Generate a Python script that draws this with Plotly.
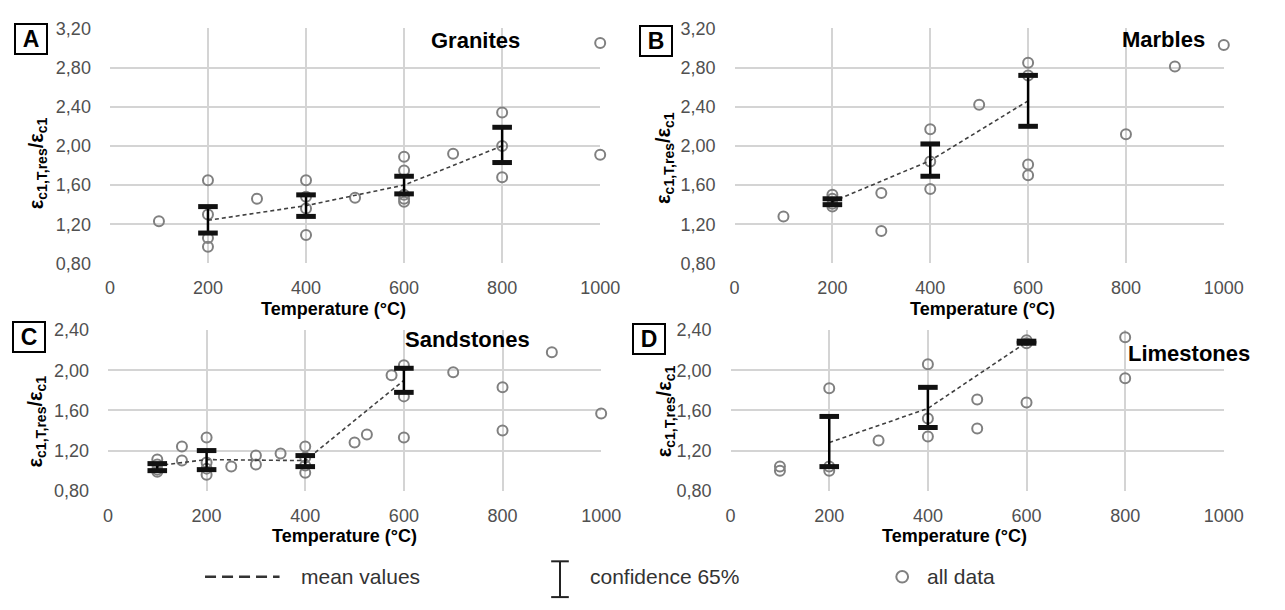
import plotly.graph_objects as go

# ---------------- data ----------------
# Panel A - Granites
a_x = [100, 200, 200, 200, 200, 300, 400, 400, 400, 400, 500, 600, 600, 600, 600, 600, 700, 800, 800, 800, 1000, 1000]
a_y = [1.23, 1.65, 1.30, 1.06, 0.97, 1.46, 1.65, 1.48, 1.36, 1.09, 1.47, 1.89, 1.75, 1.50, 1.46, 1.43, 1.92, 2.34, 2.00, 1.68, 3.05, 1.91]
a_mean_x = [200, 400, 600, 800]
a_mean_y = [1.24, 1.39, 1.60, 2.00]
a_ci_x = [200, 400, 600, 800]
a_ci_low = [1.11, 1.28, 1.51, 1.83]
a_ci_high = [1.38, 1.50, 1.69, 2.19]

# Panel B - Marbles
b_x = [100, 200, 200, 200, 200, 300, 300, 400, 400, 400, 500, 600, 600, 600, 600, 800, 900, 1000]
b_y = [1.28, 1.50, 1.46, 1.41, 1.38, 1.52, 1.13, 2.17, 1.84, 1.56, 2.42, 2.85, 2.72, 1.81, 1.70, 2.12, 2.81, 3.03]
b_mean_x = [200, 400, 600]
b_mean_y = [1.43, 1.85, 2.46]
b_ci_x = [200, 400, 600]
b_ci_low = [1.40, 1.69, 2.20]
b_ci_high = [1.46, 2.02, 2.72]

# Panel C - Sandstones
c_x = [100, 100, 100, 100, 150, 150, 200, 200, 200, 200, 250, 300, 300, 350, 400, 400, 400, 400,
       500, 525, 575, 600, 600, 600, 700, 800, 800, 900, 1000]
c_y = [1.11, 1.06, 1.01, 0.99, 1.24, 1.10, 1.33, 1.08, 1.02, 0.96, 1.04, 1.15, 1.06, 1.17, 1.24, 1.13, 1.05, 0.98,
       1.28, 1.36, 1.95, 2.05, 1.74, 1.33, 1.98, 1.83, 1.40, 2.18, 1.57]
c_mean_x = [100, 200, 400, 600]
c_mean_y = [1.05, 1.11, 1.10, 1.90]
c_ci_x = [100, 200, 400, 600]
c_ci_low = [1.00, 1.01, 1.04, 1.78]
c_ci_high = [1.07, 1.20, 1.15, 2.02]

# Panel D - Limestones
d_x = [100, 100, 200, 200, 200, 300, 400, 400, 400, 500, 500, 600, 600, 600, 800, 800]
d_y = [1.04, 1.00, 1.82, 1.04, 1.00, 1.30, 2.06, 1.52, 1.34, 1.71, 1.42, 2.30, 2.27, 1.68, 2.33, 1.92]
d_mean_x = [200, 400, 600]
d_mean_y = [1.28, 1.62, 2.28]
d_ci_x = [200, 400, 600]
d_ci_low = [1.04, 1.43, 2.27]
d_ci_high = [1.54, 1.83, 2.29]

x_ticks = [0, 200, 400, 600, 800, 1000]
y_ticks_ab = [0.8, 1.2, 1.6, 2.0, 2.4, 2.8, 3.2]
y_ticks_cd = [0.8, 1.2, 1.6, 2.0, 2.4]
y_ticktext_ab = ["0,80", "1,20", "1,60", "2,00", "2,40", "2,80", "3,20"]
y_ticktext_cd = ["0,80", "1,20", "1,60", "2,00", "2,40"]

panels = [
    ("A", "Granites", a_x, a_y, a_mean_x, a_mean_y, a_ci_x, a_ci_low, a_ci_high),
    ("B", "Marbles", b_x, b_y, b_mean_x, b_mean_y, b_ci_x, b_ci_low, b_ci_high),
    ("C", "Sandstones", c_x, c_y, c_mean_x, c_mean_y, c_ci_x, c_ci_low, c_ci_high),
    ("D", "Limestones", d_x, d_y, d_mean_x, d_mean_y, d_ci_x, d_ci_low, d_ci_high),
]

# ---------------- layout geometry (pixels) ----------------
W, H = 1285, 610
def px(x):
    return x / W
def py(y):
    return 1 - y / H

plot_boxes = {  # left, right, top, bottom in px
    "A": (107, 607, 19, 262),
    "B": (744, 1243, 19, 262),
    "C": (105, 608, 331, 497),
    "D": (740, 1243, 331, 497),
}
letter_pos = {"A": (27, 30), "B": (664, 32), "C": (24, 338), "D": (657, 340)}
title_pos = {"A": (480, 32), "B": (1181, 30), "C": (472, 341), "D": (1207, 355)}
ytitle_pos = {"A": (33, 158), "B": (673, 153), "C": (32, 425), "D": (673, 415)}
xtitle_pos = {"A": (335, 309), "B": (997, 309), "C": (346, 544), "D": (968, 544)}

GRID = "#d4d4d4"
TICK_COLOR = "#505050"
PT_COLOR = "#808080"
FONT = "Liberation Sans, Arial, sans-serif"

fig = go.Figure()
layout = dict(
    width=W, height=H,
    margin=dict(l=0, r=0, t=0, b=0),
    paper_bgcolor="white", plot_bgcolor="white",
    showlegend=False,
    font=dict(family=FONT, color=TICK_COLOR),
)
annotations = []
shapes = []

for i, (letter, name, xs, ys, mx, my, cx, clo, chi) in enumerate(panels):
    n = i + 1
    xa = "x" if n == 1 else f"x{n}"
    ya = "y" if n == 1 else f"y{n}"
    l, r, t, b = plot_boxes[letter]
    ab = letter in ("A", "B")
    layout["xaxis" if n == 1 else f"xaxis{n}"] = dict(
        domain=[px(l), px(r)], anchor=ya, range=[0, 1000],
        tickvals=x_ticks, ticktext=[str(v) for v in x_ticks],
        showgrid=True, gridcolor=GRID, gridwidth=1.5,
        zeroline=False, showline=False, ticks="",
        tickfont=dict(size=18, color=TICK_COLOR, family=FONT),
        ticklabelstandoff=12,
    )
    layout["yaxis" if n == 1 else f"yaxis{n}"] = dict(
        domain=[py(b), py(t)], anchor=xa,
        range=[0.8, 3.2] if ab else [0.8, 2.4],
        tickvals=y_ticks_ab if ab else y_ticks_cd,
        ticktext=y_ticktext_ab if ab else y_ticktext_cd,
        showgrid=True, gridcolor=GRID, gridwidth=1.5,
        zeroline=False, showline=False, ticks="",
        tickfont=dict(size=18, color=TICK_COLOR, family=FONT),
        ticklabelstandoff=18,
    )
    # all data
    fig.add_trace(go.Scatter(
        x=xs, y=ys, xaxis=xa, yaxis=ya, mode="markers", cliponaxis=False,
        marker=dict(symbol="circle-open", size=10, color=PT_COLOR, line=dict(width=2, color=PT_COLOR)),
    ))
    # mean values
    fig.add_trace(go.Scatter(
        x=mx, y=my, xaxis=xa, yaxis=ya, mode="lines",
        line=dict(color="#404040", width=1.6, dash="4px,3px"),
    ))
    # confidence bars (stem)
    fig.add_trace(go.Scatter(
        x=cx, y=clo, xaxis=xa, yaxis=ya, mode="markers", cliponaxis=False,
        marker=dict(size=2, color="rgba(0,0,0,0)"),
        error_y=dict(type="data", symmetric=False,
                     array=[h - lo for h, lo in zip(chi, clo)],
                     arrayminus=[0] * len(clo),
                     color="black", thickness=2.5, width=0),
    ))
    # confidence caps
    fig.add_trace(go.Scatter(
        x=cx + cx, y=clo + chi, xaxis=xa, yaxis=ya, mode="markers", cliponaxis=False,
        marker=dict(symbol="line-ew", size=14, color="#111111", line=dict(width=5, color="#111111")),
    ))

    # panel letter box
    lx, ly = letter_pos[letter]
    annotations.append(dict(
        x=px(lx), y=py(ly), xref="paper", yref="paper", showarrow=False,
        text=f"<b>{letter}</b>", font=dict(size=23, color="black", family=FONT),
        bordercolor="black", borderwidth=2, borderpad=1, width=28, height=26,
        bgcolor="white", xanchor="center", yanchor="middle",
    ))
    # panel title
    tx, ty = title_pos[letter]
    annotations.append(dict(
        x=px(tx), y=py(ty), xref="paper", yref="paper", showarrow=False,
        text=f"<b>{name}</b>", font=dict(size=22, color="black", family=FONT),
        xanchor="center", yanchor="middle",
    ))
    # y title
    yx, yy = ytitle_pos[letter]
    annotations.append(dict(
        x=px(yx), y=py(yy), xref="paper", yref="paper", showarrow=False, textangle=-90,
        text="<b>ε<sub>c1,T,res</sub>/ε<sub>c1</sub></b>",
        font=dict(size=20, color="black", family=FONT),
        xanchor="center", yanchor="middle",
    ))
    # x title
    xx, xy = xtitle_pos[letter]
    annotations.append(dict(
        x=px(xx), y=py(xy), xref="paper", yref="paper", showarrow=False,
        text="<b>Temperature (°C)</b>", font=dict(size=18, color="black", family=FONT),
        xanchor="center", yanchor="middle",
    ))

# ---------------- custom legend ----------------
LEG_Y = 586
shapes.append(dict(type="line", xref="paper", yref="paper",
                   x0=px(204), x1=px(280), y0=py(LEG_Y), y1=py(LEG_Y),
                   line=dict(color="#333333", width=2.5, dash="11px,6px")))
annotations.append(dict(x=px(300), y=py(LEG_Y), xref="paper", yref="paper", showarrow=False,
                        text="mean values", font=dict(size=21, color="#333333", family=FONT),
                        xanchor="left", yanchor="middle"))
shapes.append(dict(type="line", xref="paper", yref="paper",
                   x0=px(566), x1=px(566), y0=py(570), y1=py(607),
                   line=dict(color="#222222", width=2)))
shapes.append(dict(type="line", xref="paper", yref="paper",
                   x0=px(557), x1=px(575), y0=py(570), y1=py(570),
                   line=dict(color="#222222", width=2)))
shapes.append(dict(type="line", xref="paper", yref="paper",
                   x0=px(557), x1=px(575), y0=py(607), y1=py(607),
                   line=dict(color="#222222", width=2)))
annotations.append(dict(x=px(595), y=py(LEG_Y), xref="paper", yref="paper", showarrow=False,
                        text="confidence 65%", font=dict(size=21, color="#333333", family=FONT),
                        xanchor="left", yanchor="middle"))
shapes.append(dict(type="circle", xref="paper", yref="paper",
                   x0=px(909), x1=px(921), y0=py(580), y1=py(592),
                   line=dict(color=PT_COLOR, width=2)))
annotations.append(dict(x=px(938), y=py(LEG_Y), xref="paper", yref="paper", showarrow=False,
                        text="all data", font=dict(size=21, color="#333333", family=FONT),
                        xanchor="left", yanchor="middle"))

layout["annotations"] = annotations
layout["shapes"] = shapes
fig.update_layout(**layout)
fig.write_html("out.html")
